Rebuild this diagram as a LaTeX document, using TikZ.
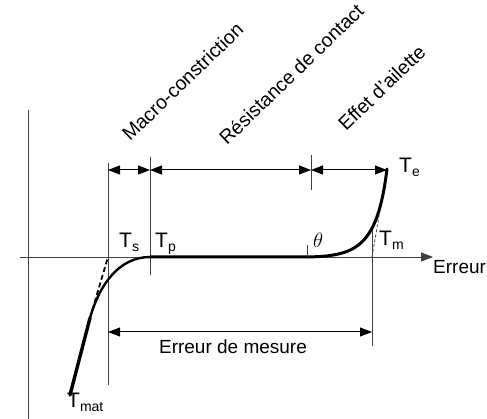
\documentclass[tikz,border=0pt]{standalone}
\usepackage{fontspec}
\setmainfont{Liberation Sans}
\usetikzlibrary{arrows.meta}
\begin{document}
\begin{tikzpicture}[x=1pt,y=-1pt,
  thin line/.style={line width=0.9pt,black!75},
  dim/.style={line width=1pt,{Triangle[length=12pt,width=9pt]}-{Triangle[length=12pt,width=9pt]}},
  curveline/.style={line width=3pt,black,line cap=round},
  lbl/.style={inner sep=0pt,font=\fontsize{19}{19}\selectfont},
  tlbl/.style={inner sep=0pt,anchor=base west,font=\fontsize{21}{21}\selectfont},
  rot/.style={inner sep=0pt,anchor=base west,rotate=44,font=\fontsize{19.5}{19.5}\selectfont}]
\useasboundingbox (0,0) rectangle (487,419);
\newcommand{\Tsub}[1]{T\raisebox{-4pt}{\fontsize{14}{14}\selectfont #1}}
% axes
\coordinate (ax0) at (20,257);
\coordinate (ax1) at (433,257);
\coordinate (ay0) at (28,110);
\coordinate (ay1) at (28,419);
\draw[thin line] (ay0) -- (ay1);
\draw[thin line,-{Triangle[length=12pt,width=9pt]}] (ax0) -- (ax1);
\node[lbl,anchor=north west] (err) at (433,260) {Erreur};
% key points
\coordinate (Tmat) at (70,395);
\coordinate (K) at (90,318);
\coordinate (Ts) at (108,257);
\coordinate (Tp) at (150,257);
\coordinate (Fl) at (300,257);
\coordinate (Te) at (387,169);
\coordinate (Tm) at (372,257);
% vertical guide lines
\coordinate (tsTop) at (108,163); \coordinate (tsBot) at (108,385);
\coordinate (tpTop) at (150,157); \coordinate (tpBot) at (150,275);
\coordinate (tkTop) at (311,155); \coordinate (tkBot) at (311,190);
\coordinate (tmTop) at (372,228); \coordinate (tmBot) at (372,346);
\draw[thin line] (tsTop) -- (tsBot);
\draw[thin line] (tpTop) -- (tpBot);
\draw[thin line] (tkTop) -- (tkBot);
\draw[thin line] (tmTop) -- (tmBot);
% dimension arrows
\coordinate (d1) at (108,170); \coordinate (d2) at (150,170);
\coordinate (d3) at (311,170); \coordinate (d4) at (387,170);
\draw[dim] (d1) -- (d2);
\draw[dim] (d2) -- (d3);
\draw[dim] (d3) -- (d4);
\coordinate (e1) at (108,332); \coordinate (e2) at (372,332);
\draw[dim] (e1) -- (e2);
\node[lbl,anchor=north] (em) at (233,340) {Erreur de mesure};
% tangents (dashed)
\draw[line width=1.8pt,dash pattern=on 5pt off 3pt] (K) -- (Ts);
\draw[line width=0.8pt,dash pattern=on 3pt off 2pt,black!70] (Tm) -- (Te);
% curve
\draw[curveline,line width=3.4pt] (Tmat) -- (K);
\draw[line width=2.4pt] (K) .. controls (100,283) and (120,257) .. (Tp);
\draw[curveline] (Tp) -- (Fl) .. controls (355,257) and (377,250) .. (Te);
% theta tick
\coordinate (th0) at (307,245); \coordinate (th1) at (307,257);
\draw[thin line] (th0) -- (th1);
\node[inner sep=0pt,anchor=base west,font=\fontsize{21}{21}\selectfont] (theta) at (313,248) {$\theta$};
% T labels
\node[tlbl] (lTs) at (119,248) {\Tsub{s}};
\node[tlbl] (lTp) at (155,248) {\Tsub{p}};
\node[tlbl] (lTm) at (379,246) {\Tsub{m}};
\node[tlbl] (lTe) at (399,173) {\Tsub{e}};
\node[tlbl] (lTmat) at (67,407) {\Tsub{mat}};
% rotated labels
\node[rot] (r1) at (130,142) {Macro-constriction};
\node[rot] (r2) at (227,146) {Résistance de contact};
\node[rot] (r3) at (346,132) {Effet d'ailette};
\end{tikzpicture}
\end{document}
